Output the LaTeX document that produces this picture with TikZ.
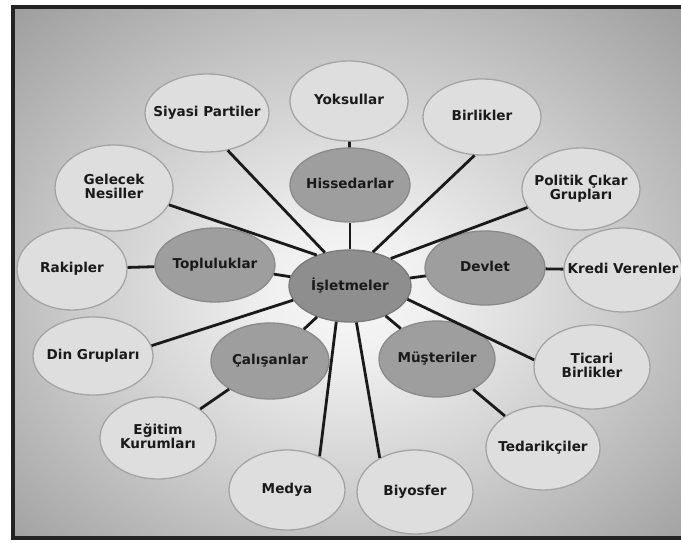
\documentclass[tikz,border=0pt]{standalone}
\usepackage{fontspec}
\setmainfont{DejaVu Sans}
\usetikzlibrary{shapes.geometric}
\definecolor{outfill}{HTML}{DEDEDE}
\definecolor{outdraw}{HTML}{A4A4A4}
\definecolor{midfill}{HTML}{9E9E9E}
\definecolor{middraw}{HTML}{8A8A8A}
\definecolor{cenfill}{HTML}{8E8E8E}
\definecolor{cendraw}{HTML}{7A7A7A}
\definecolor{ink}{HTML}{1A1A1A}
\definecolor{frame}{HTML}{232323}
\pgfdeclareradialshading{bgshade}{\pgfpoint{0bp}{-2bp}}{color(0bp)=(white!97!black); color(6bp)=(white!94!black); color(20bp)=(white!80!black); color(35bp)=(white!63!black); color(50bp)=(white!48!black); color(75bp)=(white!45!black)}
\newcommand{\tl}[1]{\makebox[0pt]{\begin{tabular}{@{}c@{}}#1\end{tabular}}}
\begin{document}
\begin{tikzpicture}[x=1pt,y=-1pt,
  lab/.style={ellipse, inner sep=0pt, text=ink,
    font=\bfseries\fontsize{13.6}{13}\selectfont, line width=1.3pt},
  outer/.style={lab, fill=outfill, draw=outdraw, minimum width=118pt, minimum height=80pt},
  middle/.style={lab, fill=midfill, draw=middraw, minimum width=120pt, minimum height=74pt},
  core/.style={lab, fill=cenfill, draw=cendraw, minimum width=122pt, minimum height=72pt},
  link/.style={draw=ink, line width=2.8pt}]
\useasboundingbox (0,0) rectangle (681,543);
\fill[white] (0,0) rectangle (681,543);
\shade[shading=bgshade] (13,7) rectangle (684,538);
\draw[frame, line width=4pt] (684,7) -- (13,7) -- (13,538) -- (684,538);

% centre and middle ring
\node[core]   (isl)  at (350,286) {\tl{İşletmeler}};
\node[middle] (hiss) at (350,185) {\tl{Hissedarlar}};
\node[middle] (topl) at (215,265) {\tl{Topluluklar}};
\node[middle] (devl) at (485,268) {\tl{Devlet}};
\node[middle, minimum width=118pt, minimum height=76pt] (cali) at (270,361) {\tl{Çalışanlar}};
\node[middle, minimum width=116pt, minimum height=76pt] (must) at (437,359) {\tl{Müşteriler}};

% outer ring
\node[outer] (yoks) at (349,101) {\tl{Yoksullar}};
\node[outer, minimum width=124pt, minimum height=78pt] (siya) at (207,113) {\tl{Siyasi Partiler}};
\node[outer, minimum height=76pt] (birl) at (482,117) {\tl{Birlikler}};
\node[outer, minimum height=86pt] (gele) at (114,188) {\tl{Gelecek\\Nesiller}};
\node[outer, minimum height=82pt] (poli) at (581,189) {\tl{Politik Çıkar\\Grupları}};
\node[outer, minimum width=110pt, minimum height=82pt] (raki) at (72,269) {\tl{Rakipler}};
\node[outer, minimum width=118pt, minimum height=84pt] (kred) at (623,270) {\tl{Kredi Verenler}};
\node[outer, minimum width=120pt, minimum height=78pt] (din) at (93,356) {\tl{Din Grupları}};
\node[outer, minimum width=116pt, minimum height=84pt] (tica) at (592,367) {\tl{Ticari\\Birlikler}};
\node[outer, minimum width=116pt, minimum height=82pt] (egit) at (158,438) {\tl{Eğitim\\Kurumları}};
\node[outer, minimum width=114pt, minimum height=84pt] (teda) at (543,448) {\tl{Tedarikçiler}};
\node[outer, minimum width=116pt, minimum height=80pt] (medy) at (287,490) {\tl{Medya}};
\node[outer, minimum width=116pt, minimum height=84pt] (biyo) at (415,492) {\tl{Biyosfer}};

% connectors
\draw[link] (isl) -- (hiss);
\draw[link] (isl) -- (topl);
\draw[link] (isl) -- (devl);
\draw[link] (isl) -- (cali);
\draw[link] (isl) -- (must);
\draw[link] (yoks) -- (hiss);
\draw[link] (raki) -- (topl);
\draw[link] (devl) -- (kred);
\draw[link] (cali) -- (egit);
\draw[link] (must) -- (teda);
\draw[link] (siya.-61) -- (isl.127);
\draw[link] (birl.-101) -- (isl.56);
\draw[link] (gele.-17) -- (isl.137);
\draw[link] (poli.199) -- (isl.34);
\draw[link] (din.10) -- (isl.194);
\draw[link] (tica.173) -- (isl.-13);
\draw[link] (medy.46) -- (isl.-111);
\draw[link] (biyo.136) -- (isl.-80);
\end{tikzpicture}
\end{document}
